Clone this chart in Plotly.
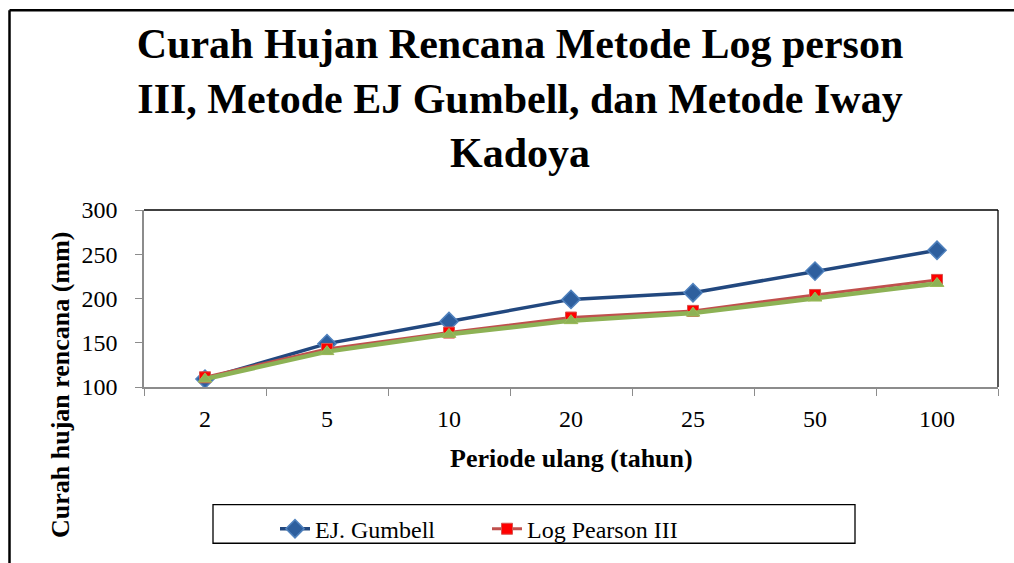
import plotly.graph_objects as go

categories = ["2", "5", "10", "20", "25", "50", "100"]
gumbell = [109, 149, 174, 199, 206.5, 231, 254.5]
log_pearson = [111, 143, 161.5, 178.5, 186, 204, 221]
iway_kadoya = [109, 140, 159.5, 175, 183.5, 200.5, 217]

W, H = 1014, 563
L, R, T, B = 144, 16, 210, 174
pw, ph = W - L - R, H - T - B

def px_x(x):
    return (x - L) / pw

def px_y(y):
    return (H - B - y) / ph

FONT = "Liberation Serif"

fig = go.Figure()
fig.add_trace(go.Scatter(
    x=categories, y=gumbell, name="EJ. Gumbell", mode="lines+markers",
    line=dict(color="#22487F", width=3.5),
    marker=dict(symbol="diamond", size=14, color="#2E5F9E",
                line=dict(color="#4F81BD", width=1.5))))
fig.add_trace(go.Scatter(
    x=categories, y=log_pearson, name="Log Pearson III", mode="lines+markers",
    line=dict(color="#C0504D", width=3),
    marker=dict(symbol="square", size=11, color="#FF0000",
                line=dict(color="#D9534F", width=1))))
fig.add_trace(go.Scatter(
    x=categories, y=iway_kadoya, name="Iway Kadoya", mode="lines+markers",
    showlegend=False,
    line=dict(color="#8DB255", width=4.5),
    marker=dict(symbol="triangle-up", size=12, color="#8DB255",
                line=dict(color="#9BBB59", width=1))))

shapes = [
    dict(type="line", xref="paper", yref="paper", x0=0, x1=1, y0=1, y1=1,
         line=dict(color="black", width=1.3)),
    dict(type="line", xref="paper", yref="paper", x0=1, x1=1, y0=0, y1=1,
         line=dict(color="black", width=1.3)),
    dict(type="line", xref="paper", yref="paper", x0=px_x(9.5), x1=px_x(1100),
         y0=px_y(8), y1=px_y(8), line=dict(color="black", width=2.5)),
    dict(type="line", xref="paper", yref="paper", x0=px_x(9.5), x1=px_x(9.5),
         y0=px_y(8), y1=px_y(700), line=dict(color="black", width=2.5)),
    dict(type="rect", xref="paper", yref="paper", x0=px_x(213), x1=px_x(855),
         y0=px_y(547), y1=px_y(508), line=dict(color="black", width=1.3)),
]

annotations = [
    dict(text="<b>Curah hujan rencana (mm)</b>", xref="paper", yref="paper",
         x=px_x(60), y=px_y(387), xanchor="center", yanchor="middle",
         textangle=-90, showarrow=False,
         font=dict(family=FONT, size=26, color="black")),
    dict(text="<b>Periode ulang (tahun)</b>", xref="paper", yref="paper",
         x=0.5, y=px_y(461), xanchor="center", yanchor="middle", showarrow=False,
         font=dict(family=FONT, size=26, color="black")),
]

fig.update_layout(
    width=W, height=H,
    margin=dict(l=L, r=R, t=T, b=B),
    paper_bgcolor="white", plot_bgcolor="white",
    font=dict(family=FONT, size=24, color="black"),
    title=dict(
        text="<b>Curah Hujan Rencana Metode Log person<br>III, Metode EJ Gumbell, dan Metode Iway<br>Kadoya</b>",
        x=520 / W, xref="container", xanchor="center",
        y=1 - 58 / H, yref="container", yanchor="middle",
        font=dict(family=FONT, size=42, color="black")),
    xaxis=dict(
        type="category", range=[-0.5, 6.5], tickson="boundaries",
        ticks="outside", ticklen=7,
        tickcolor="#8C8C8C", showline=True, linecolor="#8C8C8C", linewidth=1.5,
        showgrid=False, tickfont=dict(family=FONT, size=24), zeroline=False,
        ticklabelstandoff=9),
    yaxis=dict(
        range=[100, 300], dtick=50, ticks="outside", ticklen=7,
        tickcolor="#8C8C8C", showline=True, linecolor="#8C8C8C", linewidth=1.5,
        showgrid=False, tickfont=dict(family=FONT, size=24), zeroline=False,
        ticklabelstandoff=13),
    legend=dict(
        orientation="h", x=px_x(275), xanchor="left", y=px_y(510), yanchor="top",
        font=dict(family=FONT, size=24), bgcolor="rgba(0,0,0,0)",
        entrywidth=167, entrywidthmode="pixels"),
    shapes=shapes,
    annotations=annotations,
)

fig.write_html("out.html", config={"displayModeBar": False},
               post_script="document.body.style.margin='0';")
